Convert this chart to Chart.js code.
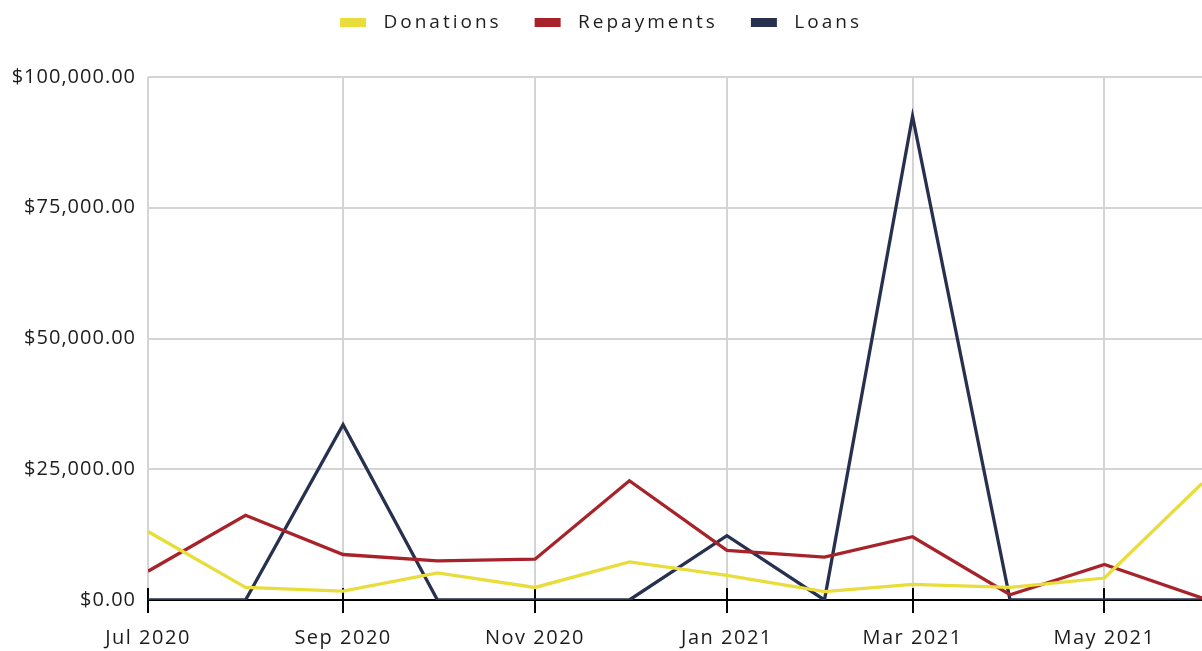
<!DOCTYPE html>
<html>
<head>
<meta charset="utf-8">
<script src="https://cdn.jsdelivr.net/npm/chart.js"></script>
<style>
  body { margin: 0; background: #fff; }
  #wrap { width: 1202px; height: 651px; position: relative; }
</style>
</head>
<body>
<div id="wrap"><canvas id="flowChart"></canvas></div>
<script>
// monthly totals, Jul 2020 - Jun 2021
const months     = ["2020-07", "2020-08", "2020-09", "2020-10", "2020-11", "2020-12",
                    "2021-01", "2021-02", "2021-03", "2021-04", "2021-05", "2021-06"];
const donations  = [13100, 2400, 1700, 5200, 2400, 7300, 4700, 1600, 3000, 2400, 4200, 22300];
const repayments = [5500, 16200, 8700, 7500, 7800, 22800, 9500, 8200, 12100, 1000, 6800, 400];
const loans      = [0, 0, 33500, 0, 0, 0, 12300, 0, 92500, 0, 0, 0];

// labelled ticks on the time axis
const tickMonths = ["2020-07", "2020-09", "2020-11", "2021-01", "2021-03", "2021-05"];
const tickLabels = ["Jul 2020", "Sep 2020", "Nov 2020", "Jan 2021", "Mar 2021", "May 2021"];

const seriesNames  = ["Donations", "Repayments", "Loans"];
const seriesColors = ["#e8dd3b", "#a8222a", "#27304f"];

// days since the first month, used as a linear "time" axis
function dayOffset(month) {
    const parts = month.split("-");
    return (Date.UTC(+parts[0], +parts[1] - 1, 1) - Date.UTC(2020, 6, 1)) / 86400000;
}

function money(v) {
    return "$" + v.toLocaleString("en-US", {minimumFractionDigits: 2, maximumFractionDigits: 2});
}

// run a draw/fit method with canvas letter spacing
function spaced(fn, px) {
    return function (...args) {
        this.ctx.save();
        this.ctx.letterSpacing = px;
        const r = fn.apply(this, args);
        this.ctx.restore();
        return r;
    };
}

const spacing = {
    id: "spacing",
    afterInit(chart) {
        const lg = chart.legend;
        const fit = spaced(lg.fit, "3px");
        const draw = lg.draw;
        lg.fit = function () {
            fit.call(this);
            this.height = 77;
        };
        lg.draw = function () {
            const ctx = this.ctx;
            ctx.save();
            ctx.letterSpacing = "3px";
            ctx.translate(0, -20);
            draw.call(this);
            ctx.restore();
        };
    },
    afterLayout(chart) {
        const xs = chart.scales.x, ys = chart.scales.y;
        if (xs._spaced) { return; }
        xs.drawLabels = spaced(xs.drawLabels, "1.5px");
        ys.drawLabels = spaced(ys.drawLabels, "1px");
        xs._spaced = true;
    },
    // short black tick marks crossing the zero line
    beforeDatasetsDraw(chart) {
        const ctx = chart.ctx, xs = chart.scales.x;
        const y0 = chart.chartArea.bottom;
        ctx.save();
        ctx.strokeStyle = "#000";
        ctx.lineWidth = 2;
        ctx.beginPath();
        xs.ticks.forEach((t) => {
            const x = Math.round(xs.getPixelForValue(t.value));
            ctx.moveTo(x, y0 - 12);
            ctx.lineTo(x, y0);
        });
        ctx.stroke();
        ctx.restore();
    }
};

Chart.defaults.font.family = "'Open Sans', sans-serif";
Chart.defaults.color = "#222";

const series = [donations, repayments, loans];
const data_sets = series.map((values, i) => ({
    label: seriesNames[i],
    data: values.map((v, k) => ({x: dayOffset(months[k]), y: v})),
    borderColor: seriesColors[i],
    backgroundColor: seriesColors[i],
    borderWidth: 3.3,
    pointRadius: 0,
    tension: 0,
    fill: false
}));

new Chart(document.getElementById("flowChart"), {
    type: "line",
    data: { datasets: data_sets },
    plugins: [spacing],
    options: {
        responsive: true,
        maintainAspectRatio: false,
        animation: false,
        layout: { padding: 0 },
        plugins: {
            legend: {
                position: "top",
                labels: {
                    boxWidth: 26,
                    boxHeight: 9,
                    padding: 33,
                    color: "#1e1e1e",
                    font: { size: 19 },
                    generateLabels(chart) {
                        const items = Chart.defaults.plugins.legend.labels.generateLabels(chart);
                        items.forEach((it) => { it.text = " " + it.text; it.lineWidth = 0; });
                        return items;
                    }
                }
            },
            tooltip: { enabled: false }
        },
        scales: {
            x: {
                type: "linear",
                min: dayOffset(months[0]),
                max: dayOffset(months[months.length - 1]),
                afterBuildTicks: (scale) => {
                    scale.ticks = tickMonths.map((m) => ({ value: dayOffset(m) }));
                },
                afterFit: (scale) => { scale.height = 51; },
                ticks: {
                    autoSkip: false,
                    maxRotation: 0,
                    padding: 13,
                    color: "#1c1c1c",
                    font: { size: 20 },
                    callback: (value) => tickLabels[tickMonths.map(dayOffset).indexOf(value)]
                },
                grid: {
                    color: "#d4d4d4",
                    lineWidth: 2,
                    drawTicks: true,
                    tickLength: 13,
                    tickColor: "#000",
                    tickWidth: 2
                },
                border: { color: "#000", width: 2 }
            },
            y: {
                min: 0,
                max: 100000,
                afterFit: (scale) => { scale.width = 148; },
                ticks: {
                    stepSize: 25000,
                    padding: 12,
                    color: "#1c1c1c",
                    font: { size: 20 },
                    callback: (value) => money(value)
                },
                grid: { color: "#d4d4d4", lineWidth: 2, drawTicks: false },
                border: { display: false }
            }
        }
    }
});
</script>
</body>
</html>
